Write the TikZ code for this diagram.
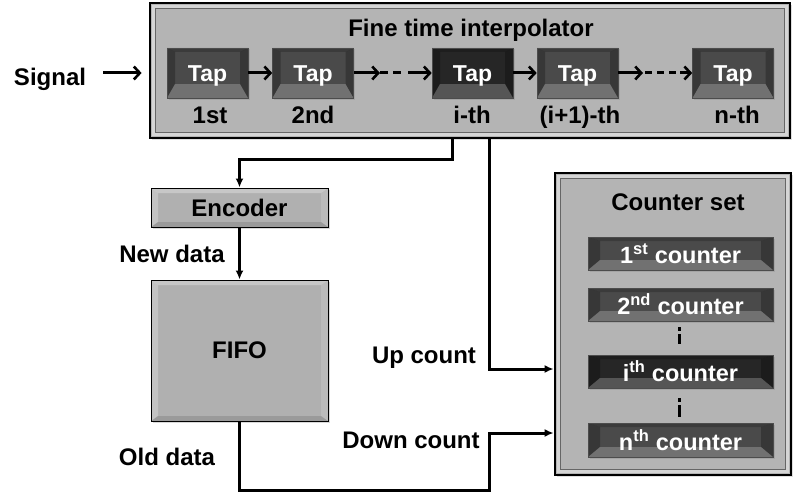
\documentclass[tikz,border=0pt]{standalone}
\usepackage{fontspec}
\setmainfont{Liberation Sans}
\usetikzlibrary{calc,arrows.meta,shadows}
\definecolor{panelc}{HTML}{B4B4B4}
\definecolor{tapc}{HTML}{4A4A4A}
\definecolor{tapdark}{HTML}{262626}
\definecolor{lightc}{HTML}{B0B0B0}
\tikzset{
  bevel/.style n args={5}{path picture={
    \coordinate (bvA) at (path picture bounding box.north west);
    \coordinate (bvB) at (path picture bounding box.north east);
    \coordinate (bvC) at (path picture bounding box.south east);
    \coordinate (bvD) at (path picture bounding box.south west);
    \coordinate (bvE) at ($(bvA)+(#1,-#2)$);
    \coordinate (bvF) at ($(bvB)+(-#1,-#2)$);
    \coordinate (bvG) at ($(bvC)+(-#1,#3)$);
    \coordinate (bvH) at ($(bvD)+(#1,#3)$);
    \fill[black,opacity=#4] (bvA)--(bvE)--(bvH)--(bvD)--cycle;
    \fill[black,opacity=#4] (bvB)--(bvF)--(bvG)--(bvC)--cycle;
    \fill[black,opacity=.2] (bvA)--(bvB)--(bvF)--(bvE)--cycle;
    \fill[white,opacity=#5] (bvH)--(bvG)--(bvC)--(bvD)--cycle;
  }},
  lbevel/.style={path picture={
    \coordinate (bvA) at (path picture bounding box.north west);
    \coordinate (bvB) at (path picture bounding box.north east);
    \coordinate (bvC) at (path picture bounding box.south east);
    \coordinate (bvD) at (path picture bounding box.south west);
    \coordinate (bvE) at ($(bvA)+(7pt,-5pt)$);
    \coordinate (bvF) at ($(bvB)+(-7pt,-5pt)$);
    \coordinate (bvG) at ($(bvC)+(-7pt,5pt)$);
    \coordinate (bvH) at ($(bvD)+(7pt,5pt)$);
    \fill[white,opacity=.25] (bvA)--(bvE)--(bvH)--(bvD)--cycle;
    \fill[white,opacity=.15] (bvB)--(bvF)--(bvG)--(bvC)--cycle;
    \fill[white,opacity=.3] (bvA)--(bvB)--(bvF)--(bvE)--cycle;
    \fill[black,opacity=.12] (bvH)--(bvG)--(bvC)--(bvD)--cycle;
  }},
  panelframe/.style={path picture={
    \draw[white,opacity=.45,line width=3pt]
      ($(path picture bounding box.north west)+(3.5pt,-3.5pt)$) rectangle
      ($(path picture bounding box.south east)+(-3.5pt,3.5pt)$);
    \draw[black!60,line width=.6pt]
      ($(path picture bounding box.north west)+(5.5pt,-5.5pt)$) rectangle
      ($(path picture bounding box.south east)+(-5.5pt,5.5pt)$);
  }},
  txt/.style={font=\fontsize{24}{28}\selectfont\bfseries, inner sep=0pt, anchor=base},
  panel/.style={draw=black, line width=2.8pt, fill=panelc, panelframe,
    drop shadow={opacity=.25, shadow xshift=2pt, shadow yshift=-2pt}},
  tapbox/.style={font=\fontsize{23}{26}\selectfont\bfseries, inner sep=0pt,
    text=white, text depth=0pt, minimum width=81pt, minimum height=50pt,
    fill=tapc, draw=black!70, line width=.6pt, bevel={8pt}{4pt}{14pt}{.25}{.22},
    drop shadow={opacity=.3, shadow xshift=1.5pt, shadow yshift=-1.5pt}},
  ctrbox/.style={font=\fontsize{23.5}{26}\selectfont\bfseries, inner sep=0pt,
    text=white, text depth=0pt,
    minimum width=185pt, minimum height=33pt,
    fill=tapc, draw=black!70, line width=.6pt, bevel={12pt}{4pt}{10pt}{.25}{.22},
    drop shadow={opacity=.3, shadow xshift=1.5pt, shadow yshift=-1.5pt}},
  lbox/.style={font=\fontsize{24}{28}\selectfont\bfseries, inner sep=0pt,
    text depth=0pt, minimum width=177pt, fill=lightc, draw=black, line width=1pt,
    lbevel,
    drop shadow={opacity=.3, shadow xshift=2pt, shadow yshift=-2pt}},
  barb/.style={line width=3pt, -{Straight Barb[length=6pt,width=13pt,line width=2.6pt]}},
  dashln/.style={line width=3pt, dash pattern=on 8pt off 5pt},
  conn/.style={line width=3pt, -{Latex[length=9pt,width=8pt]}},
  dotln/.style={line width=3pt}
}
\begin{document}
\begin{tikzpicture}[x=1pt,y=-1pt]
\useasboundingbox (0,0) rectangle (795,495);
% interpolator
\node[panel, minimum width=640pt, minimum height=135pt] (main) at (470,70.5) {};
\node[txt] (title) at (471,37) {Fine time interpolator};
\node[tapbox] (t1) at (207.5,73) {\raisebox{-2pt}{Tap}};
\node[tapbox] (t2) at (313,73) {\raisebox{-2pt}{Tap}};
\node[tapbox, fill=tapdark] (ti) at (472.5,73) {\raisebox{-2pt}{Tap}};
\node[tapbox] (tj) at (577.5,73) {\raisebox{-2pt}{Tap}};
\node[tapbox] (tn) at (733,73) {\raisebox{-2pt}{Tap}};
\node[txt] (l1) at (210,123) {1st};
\node[txt] (l2) at (313,123) {2nd};
\node[txt] (li) at (472,123) {i-th};
\node[txt] (lj) at (580,123) {(i+1)-th};
\node[txt] (ln) at (737,123) {n-th};
% signal
\node[txt] (sig) at (50,85) {Signal};
\draw[barb, shorten <=17pt, shorten >=7pt] (sig.east |- t1.center) -- (t1.center -| main.west);
% tap chain
\draw[barb] (t1) -- (t2);
\coordinate (g1) at (380,73);
\coordinate (g2) at (403,73);
\coordinate (g3) at (408,73);
\draw[barb] (t2) -- (g1);
\draw[dashln] (g1) -- (g2);
\draw[barb] (g3) -- (ti);
\draw[barb] (ti) -- (tj);
\coordinate (h1) at (643,73);
\coordinate (h2) at (677,73);
\coordinate (h3) at (680,73);
\draw[barb] (tj) -- (h1);
\draw[dashln, dash pattern=on 7pt off 5pt] (h1) ++(2,0) -- (h2);
\draw[barb] (h3) -- (tn);
% encoder / fifo
\node[lbox, minimum height=39pt] (enc) at (239.5,207.5) {Encoder};
\node[lbox, minimum height=141pt] (fifo) at (239.5,350.5) {FIFO};
\draw[conn] (enc) -- (fifo);
\node[txt] (nd) at (172,262) {New data};
\node[txt] (od) at (167,465) {Old data};
% counter set
\node[panel, minimum width=236pt, minimum height=302pt] (cs) at (673,324) {};
\node[txt] (cst) at (678,210) {Counter set};
\node[ctrbox] (c1) at (680.5,253.5) {1\textsuperscript{st} counter};
\node[ctrbox] (c2) at (680.5,304.5) {2\textsuperscript{nd} counter};
\node[ctrbox, fill=tapdark] (ci) at (680.5,371.5) {i\textsuperscript{th} counter};
\node[ctrbox, minimum height=34pt] (cn) at (680.5,440) {n\textsuperscript{th} counter};
\draw[dotln] (679,327) -- (679,331);
\draw[dotln] (679,334) -- (679,344);
\draw[dotln] (679,398) -- (679,402);
\draw[dotln] (679,405) -- (679,417);
\node[txt] (uc) at (424,363) {Up count};
\node[txt] (dc) at (411,448) {Down count};
% connectors
\coordinate (ia) at ($(ti.center)+(-20.5,0)$);
\coordinate (ib) at ($(ti.center)+(16.5,0)$);
\coordinate (upin) at ($(cs.west |- ci.center)+(0,-2.5)$);
\coordinate (dnin) at ($(cs.west |- cn.center)+(0,-7)$);
\coordinate (bot) at (0,490);
\draw[conn] (ia |- main.south) -- ++(0,20) -| (enc.north);
\draw[conn] (ib |- main.south) |- (upin);
\draw[conn] (fifo.south) -- (fifo.south |- bot) -| (ib |- dnin) -- (dnin);
\end{tikzpicture}
\end{document}
